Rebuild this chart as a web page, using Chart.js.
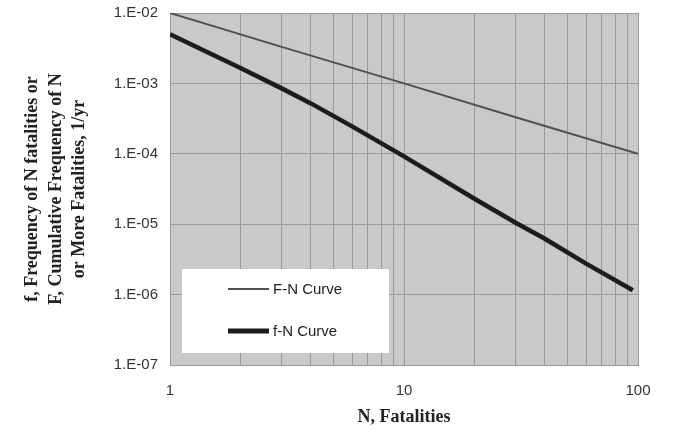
<!DOCTYPE html>
<html><head><meta charset="utf-8">
<script src="https://cdn.jsdelivr.net/npm/chart.js@4"></script>
<style>html,body{margin:0;padding:0;background:#fff;}canvas{display:block;}</style>
</head><body>
<canvas id="c" width="682" height="440"></canvas>
<script>
// ---- data ----
const seriesLabels = ['F-N Curve', 'f-N Curve'];
const nFN = [1, 3, 10, 30, 100];
const valuesFN = [1.0e-2, 3.3e-3, 1.0e-3, 3.3e-4, 1.0e-4];
const nfN = [1, 2, 3, 4, 6, 10, 20, 30, 40, 60, 95];
const valuesfN = [5.0e-3, 1.65e-3, 8.5e-4, 5.2e-4, 2.45e-4, 9.2e-5, 2.3e-5, 1.05e-5, 6.2e-6, 2.75e-6, 1.15e-6];
const xTickValues = [1, 2, 3, 4, 5, 6, 7, 8, 9, 10, 20, 30, 40, 50, 60, 70, 80, 90, 100];
const xTickLabels = ['1', '', '', '', '', '', '', '', '', '10', '', '', '', '', '', '', '', '', '100'];
const yTickValues = [1e-7, 1e-6, 1e-5, 1e-4, 1e-3, 1e-2];
const yTickLabels = ['1.E-07', '1.E-06', '1.E-05', '1.E-04', '1.E-03', '1.E-02'];
const xTitle = 'N, Fatalities';
const yTitle = ['f, Frequency of N fatalities or', 'F, Cumulative Frequency of N', 'or More Fatalities, 1/yr'];

const toPts = (xs, ys) => xs.map((x, i) => ({x: x, y: ys[i]}));
const nearestIdx = (arr, v) => {
  let best = 0;
  arr.forEach((a, i) => { if (Math.abs(Math.log10(a) - Math.log10(v)) < Math.abs(Math.log10(arr[best]) - Math.log10(v))) best = i; });
  return best;
};

const bgPlugin = {
  id: 'plotBg',
  beforeDraw(chart) {
    const {ctx, chartArea: a} = chart;
    ctx.save();
    ctx.fillStyle = '#c9c9c9';
    ctx.fillRect(a.left, a.top, a.right - a.left, a.bottom - a.top);
    ctx.restore();
  }
};

const legendPlugin = {
  id: 'legendBox',
  afterDatasetsDraw(chart) {
    const {ctx, chartArea: a} = chart;
    const x = a.left + 12, y = a.bottom - 96, w = 207, h = 84;
    ctx.save();
    ctx.fillStyle = '#ffffff';
    ctx.fillRect(x, y, w, h);
    chart.data.datasets.forEach((ds, i) => {
      const ly = y + 20 + i * 42;
      ctx.strokeStyle = ds.borderColor;
      ctx.lineWidth = i === 0 ? 2 : 5;
      ctx.beginPath(); ctx.moveTo(x + 46, ly); ctx.lineTo(x + 87, ly); ctx.stroke();
      ctx.fillStyle = '#222';
      ctx.font = '15px "Liberation Sans", Arial, sans-serif';
      ctx.textBaseline = 'middle';
      ctx.textAlign = 'left';
      ctx.fillText(ds.label, x + 91, ly + 1);
    });
    ctx.restore();
  }
};

new Chart(document.getElementById('c'), {
  type: 'scatter',
  data: {
    datasets: [
      {label: seriesLabels[0], data: toPts(nFN, valuesFN), showLine: true, borderColor: '#505050', borderWidth: 2, pointRadius: 0, tension: 0},
      {label: seriesLabels[1], data: toPts(nfN, valuesfN), showLine: true, borderColor: '#1c1c1c', borderWidth: 4.5, pointRadius: 0, tension: 0}
    ]
  },
  options: {
    responsive: false,
    animation: false,
    layout: {padding: {left: 0, top: 13, right: 44, bottom: 0}},
    plugins: {legend: {display: false}, tooltip: {enabled: false}},
    scales: {
      x: {
        type: 'logarithmic', min: 1, max: 100,
        afterBuildTicks: s => { s.ticks = xTickValues.map(v => ({value: v})); },
        afterFit: s => { s.height = 75; },
        ticks: {
          autoSkip: false, maxRotation: 0, padding: 17, color: '#333',
          font: {family: '"Liberation Sans", Arial, sans-serif', size: 15},
          callback: (v) => xTickLabels[nearestIdx(xTickValues, v)]
        },
        grid: {color: '#9a9a9a', lineWidth: 1, drawTicks: false},
        border: {color: '#9a9a9a'},
        title: {display: true, text: xTitle, color: '#222',
          font: {family: '"Liberation Serif", "Times New Roman", serif', size: 18, weight: 'bold'},
          padding: {top: 0, bottom: 12}}
      },
      y: {
        type: 'logarithmic', min: 1e-7, max: 1e-2,
        afterBuildTicks: s => { s.ticks = yTickValues.map(v => ({value: v})); },
        afterFit: s => { s.width = 170; },
        ticks: {
          autoSkip: false, padding: 0, color: '#333',
          font: {family: '"Liberation Sans", Arial, sans-serif', size: 15},
          callback: (v) => yTickLabels[nearestIdx(yTickValues, v)]
        },
        grid: {color: '#9a9a9a', lineWidth: 1, drawTicks: true, tickLength: 12, tickColor: 'rgba(0,0,0,0)'},
        border: {color: '#9a9a9a'},
        title: {display: true, text: yTitle, color: '#222',
          font: {family: '"Liberation Serif", "Times New Roman", serif', size: 18, weight: 'bold', lineHeight: 1.3},
          padding: {top: 21, bottom: 0}}
      }
    }
  },
  plugins: [bgPlugin, legendPlugin]
});
</script>
</body></html>
